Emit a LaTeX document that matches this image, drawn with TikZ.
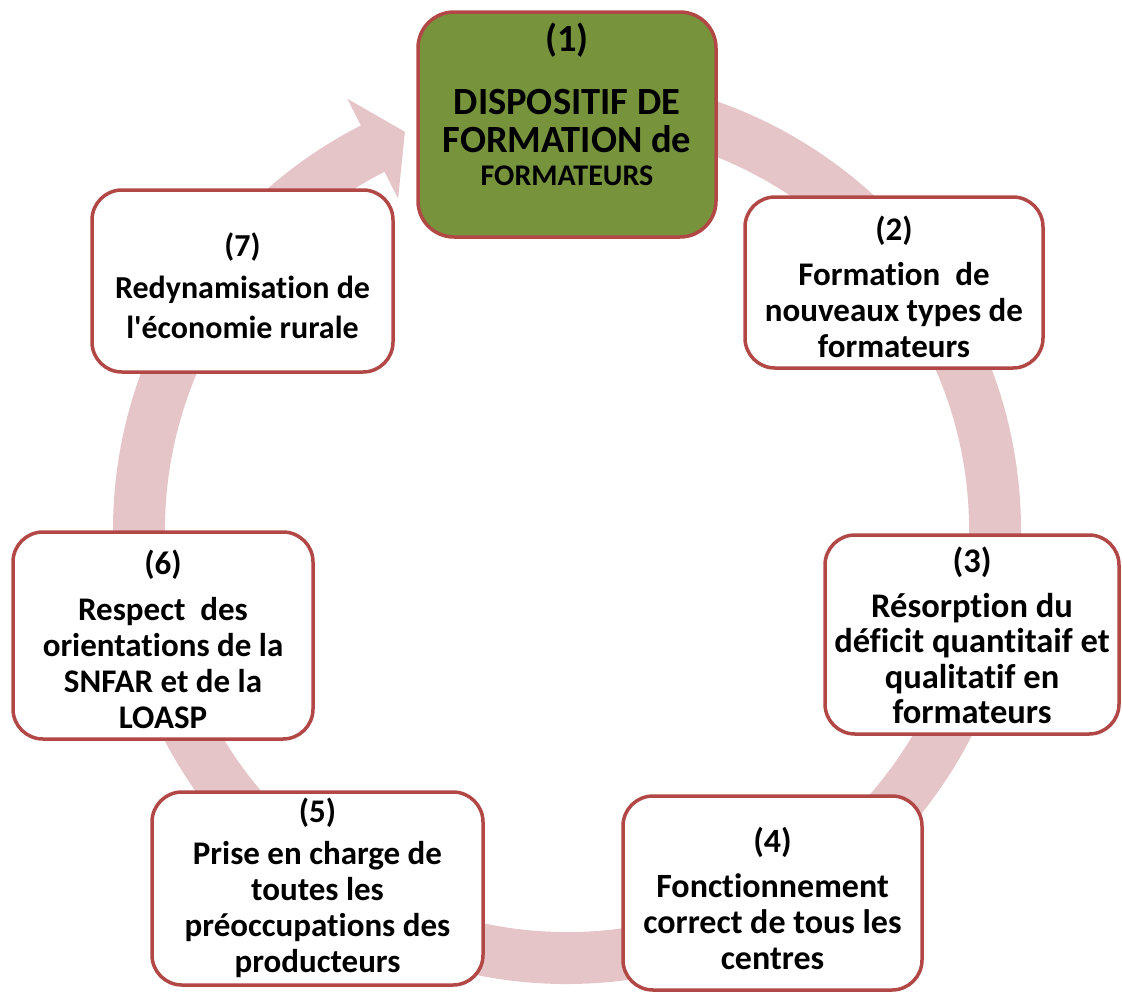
\documentclass[tikz,border=0pt]{standalone}
\usepackage{fontspec}
\setmainfont{Carlito}[Ligatures={NoCommon}]
\definecolor{boxred}{RGB}{178,72,70}
\definecolor{ringpink}{RGB}{229,197,200}
\definecolor{olivegreen}{RGB}{119,147,60}
\begin{document}
\begin{tikzpicture}[x=1pt,y=1pt,
  stagebox/.style={draw=boxred, line width=3.5pt, rounded corners=30pt,
    fill=white, inner sep=0pt},
  mainbox/.style={stagebox, fill=olivegreen, rounded corners=36pt},
  stagetext/.style={align=center, inner sep=0pt,
    font=\bfseries\fontsize{33}{36}\selectfont},
  maintext/.style={align=center, inner sep=0pt,
    font=\bfseries\fontsize{38.5}{38}\selectfont}
]
\useasboundingbox (0,0) rectangle (1122,-994);

% circular arrow running clockwise behind the stages
\begin{scope}[shift={(567,-530)}]
  \fill[ringpink] (95:454) arc[start angle=95, end angle=-243, radius=454]
    -- (-243:484) -- (-247.85:430) -- (-243:372) -- (-243:402)
    arc[start angle=-243, end angle=95, radius=402] -- cycle;
\end{scope}

% stage boxes
\node[mainbox,  minimum width=298pt, minimum height=225pt] (b1) at (567,-124.5) {};
\node[stagebox, minimum width=298pt, minimum height=171pt] (b2) at (894,-282.5) {};
\node[stagebox, minimum width=294pt, minimum height=199pt] (b3) at (972,-634.5) {};
\node[stagebox, minimum width=299pt, minimum height=194pt] (b4) at (772.5,-893) {};
\node[stagebox, minimum width=331pt, minimum height=193pt] (b5) at (317.5,-888.5) {};
\node[stagebox, minimum width=300pt, minimum height=207pt] (b6) at (163,-635.5) {};
\node[stagebox, minimum width=301pt, minimum height=182pt] (b7) at (242.5,-281) {};

% stage texts
\node[maintext] (t1) at ([yshift=20.5pt]b1.center)
  {(1)\\[25pt]DISPOSITIF DE\\FORMATION de\\[-5pt]{\fontsize{30}{33}\selectfont FORMATEURS}};
\node[stagetext] (t2) at ([yshift=-4pt]b2.center)
  {(2)\\[9pt]Formation~~de\\nouveaux types de\\formateurs};
\node[stagetext, font=\bfseries\fontsize{34.5}{35.5}\selectfont] (t3) at ([yshift=-1pt]b3.center)
  {(3)\\[9pt]Résorption du\\déficit quantitaif et\\qualitatif en\\formateurs};
\node[stagetext, font=\bfseries\fontsize{34}{36}\selectfont] (t4) at ([yshift=-5pt]b4.center)
  {(4)\\[9pt]Fonctionnement\\correct de tous les\\centres};
\node[stagetext] (t5) at ([yshift=1pt]b5.center)
  {(5)\\[6pt]Prise en charge de\\toutes les\\préoccupations des\\producteurs};
\node[stagetext] (t6) at ([yshift=-4pt]b6.center)
  {(6)\\[10pt]Respect~~des\\orientations de la\\SNFAR et de la\\LOASP};
\node[stagetext, font=\bfseries\fontsize{32}{40}\selectfont] (t7) at ([yshift=-5pt]b7.center)
  {(7)\\[2pt]Redynamisation de\\l\textquotesingle économie rurale};
\end{tikzpicture}
\end{document}
